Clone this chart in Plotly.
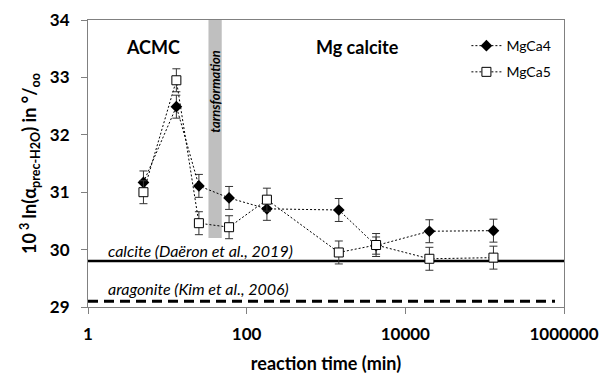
import plotly.graph_objects as go

# ---- data ----
time_min = [5, 13, 25, 60, 180, 1450, 4280, 20100, 129000]
mgca4 = [31.17, 32.49, 31.11, 30.90, 30.71, 30.69, 30.07, 30.32, 30.33]
mgca4_err = [0.2, 0.2, 0.2, 0.2, 0.2, 0.2, 0.15, 0.2, 0.2]
mgca5 = [31.00, 32.95, 30.46, 30.39, 30.87, 29.95, 30.08, 29.84, 29.86]
mgca5_err = [0.2, 0.2, 0.2, 0.2, 0.2, 0.2, 0.2, 0.2, 0.2]

calcite_x = [1, 1000000]
calcite_y = [29.8, 29.8]
aragonite_x = [1, 770000]
aragonite_y = [29.1, 29.1]

transformation_x = [33, 48.5]
transformation_y = [30.2, 34]

x_tickvals = [1, 100, 10000, 1000000]
x_ticktext = ["1", "100", "10000", "1000000"]
y_tickvals = [29, 30, 31, 32, 33, 34]

FONT = "Lato"

fig = go.Figure()

fig.add_shape(type="rect", xref="x", yref="y",
              x0=transformation_x[0], x1=transformation_x[1],
              y0=transformation_y[0], y1=transformation_y[1],
              fillcolor="#bfbfbf", line=dict(width=0), layer="below")

fig.add_trace(go.Scatter(x=calcite_x, y=calcite_y, mode="lines",
                         line=dict(color="black", width=2.5),
                         showlegend=False, hoverinfo="skip"))
fig.add_trace(go.Scatter(x=aragonite_x, y=aragonite_y, mode="lines",
                         line=dict(color="black", width=3, dash="10px,6px"),
                         showlegend=False, hoverinfo="skip"))

fig.add_trace(go.Scatter(
    x=time_min, y=mgca4, name="MgCa4", mode="lines+markers",
    line=dict(color="black", width=1, dash="2px,2px"),
    marker=dict(symbol="diamond", size=9, color="black"),
    error_y=dict(type="data", array=mgca4_err, color="#333333", thickness=1, width=4),
    legendgroup="a"))
fig.add_trace(go.Scatter(
    x=time_min, y=mgca5, name="MgCa5", mode="lines+markers",
    line=dict(color="black", width=1, dash="2px,2px"),
    marker=dict(symbol="square", size=9, color="white",
                line=dict(color="black", width=1)),
    error_y=dict(type="data", array=mgca5_err, color="#333333", thickness=1, width=4),
    legendgroup="b"))


def px_x(p):
    return (p - 88) / 476


def px_y(p):
    return (306.7 - p) / 286.2


fig.add_annotation(text="<b>ACMC</b>", xref="paper", yref="paper",
                   x=px_x(153), y=px_y(47), xanchor="center", yanchor="middle",
                   showarrow=False, font=dict(family=FONT, size=18, color="black"))
fig.add_annotation(text="<b>Mg calcite</b>", xref="paper", yref="paper",
                   x=px_x(357), y=px_y(47), xanchor="center", yanchor="middle",
                   showarrow=False, font=dict(family=FONT, size=18, color="black"))
fig.add_annotation(text="<i>calcite (Daëron et al., 2019)</i>", xref="paper", yref="paper",
                   x=px_x(106), y=px_y(250), xanchor="left", yanchor="middle",
                   showarrow=False, font=dict(family=FONT, size=16, color="black"))
fig.add_annotation(text="<i>aragonite (Kim et al., 2006)</i>", xref="paper", yref="paper",
                   x=px_x(106), y=px_y(288), xanchor="left", yanchor="middle",
                   showarrow=False, font=dict(family=FONT, size=16, color="black"))
fig.add_annotation(text="<b><i>tarnsformation</i></b>", xref="paper", yref="paper",
                   x=px_x(215), y=px_y(92), xanchor="center", yanchor="middle", textangle=-90,
                   showarrow=False, font=dict(family=FONT, size=13, color="black"))

fig.update_layout(
    width=603, height=374,
    margin=dict(l=88, r=39, t=20, b=67),
    paper_bgcolor="white", plot_bgcolor="white",
    font=dict(family=FONT, color="black"),
    legend=dict(x=0.795, y=0.965, xanchor="left", yanchor="top",
                bgcolor="rgba(0,0,0,0)", font=dict(size=14, family=FONT),
                traceorder="grouped", tracegroupgap=5, itemwidth=30),
    xaxis=dict(type="log", range=[0, 6], tickvals=x_tickvals,
               ticktext=["<b>%s</b>" % t for t in x_ticktext],
               showgrid=False, zeroline=False, showline=True, linecolor="#808080",
               linewidth=1, mirror=True, ticks="outside", ticklen=6, tickcolor="#808080",
               ticklabelstandoff=6, automargin=False,
               tickfont=dict(size=17, family=FONT),
               title=dict(text="<b>reaction time (min)</b>",
                          font=dict(size=18, family=FONT), standoff=14)),
    yaxis=dict(range=[29, 34], tickvals=y_tickvals,
               ticktext=["<b>%d</b>" % v for v in y_tickvals],
               showgrid=False, zeroline=False, automargin=False,
               showline=True, linecolor="#808080", linewidth=1, mirror=True,
               ticks="outside", ticklen=6, tickcolor="#808080", ticklabelstandoff=8,
               tickfont=dict(size=17, family=FONT),
               title=dict(text="<b>10<sup> 3</sup> ln(α<sub>prec-H2O</sub>) in °/<sub>oo</sub></b>",
                          font=dict(size=18, family=FONT), standoff=8)),
)

fig.write_html("out.html")
